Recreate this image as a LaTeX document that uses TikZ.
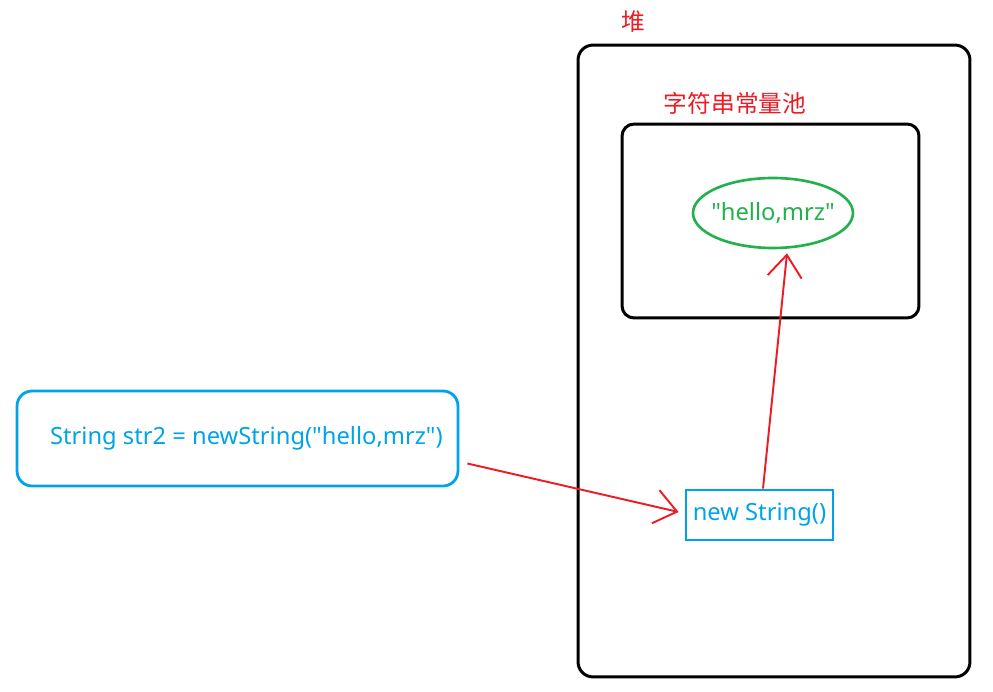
\documentclass[tikz,border=0pt]{standalone}
\usepackage{fontspec}
\setmainfont{Noto Sans}[Ligatures=TeXOff]
\newfontfamily\cjk{Noto Sans CJK SC}
\usepackage{xcolor}
\usetikzlibrary{arrows.meta}
\usetikzlibrary{shapes.geometric}

\definecolor{pred}{RGB}{237,28,36}
\definecolor{pblue}{RGB}{0,162,232}
\definecolor{pgreen}{RGB}{34,177,76}

\tikzset{
  frame/.style={draw=black,line width=1.7pt,rounded corners=0.3cm},
  title/.style={text=pred,font=\cjk\fontsize{13.5pt}{16pt}\selectfont},
  ref/.style={draw=pred,line width=1.1pt,-{Straight Barb[length=0.44cm,width=0.68cm,line width=1.1pt]}},
}

\begin{document}
\begin{tikzpicture}[x=0.02cm,y=-0.02cm,font=\fontsize{13.5pt}{16pt}\selectfont]
        \useasboundingbox (0,0) rectangle (993,692);

        % 堆
        \node[frame,minimum width=7.84cm,minimum height=12.64cm] (heap) at (774,361) {};
        \node[title] (heaplabel) at (633,22) {堆};

        % 字符串常量池
        \node[frame,rounded corners=0.24cm,minimum width=5.94cm,minimum height=3.88cm] (pool) at (770.5,221) {};
        \node[title] (poollabel) at (735,103) {字符串常量池};
        \node[ellipse,draw=pgreen,line width=1.5pt,text=pgreen,inner sep=0pt,
              minimum width=3.2cm,minimum height=1.4cm] (str) at (773,213) {\makebox[0pt]{"hello,mrz"}};

        % 变量
        \node[draw=pblue,line width=1.6pt,rounded corners=0.3cm,text=pblue,
              inner xsep=0.2cm,minimum height=1.9cm] (code) at (237.5,438.5)
              {\makebox[8.42cm][l]{\hspace*{0.46cm}String str2 = newString("hello,mrz")}};
        \node[draw=pblue,line width=1.6pt,text=pblue,inner sep=0pt,
              minimum width=2.94cm,minimum height=1cm] (obj) at (759.5,515) {new String()};

        % 引用
        \coordinate (from) at ([xshift=0.16cm,yshift=-0.5cm]code.east);
        \draw[ref] (from) -- ([xshift=-0.12cm,yshift=0.06cm]obj.west);
        \draw[ref] ([xshift=0.07cm]obj.north) -- ([xshift=0.28cm,yshift=-0.08cm]str.south);
      \end{tikzpicture}
\end{document}
